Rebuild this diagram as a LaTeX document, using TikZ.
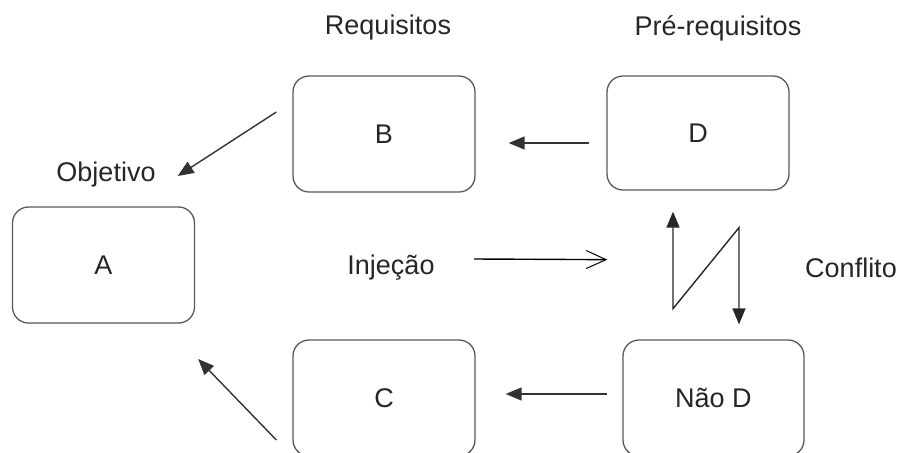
\documentclass[tikz,border=0pt]{standalone}
\usepackage{fontspec}
\setmainfont{Liberation Sans}
\usetikzlibrary{arrows.meta,calc}
\begin{document}
\begin{tikzpicture}[x=1pt,y=-1pt,
  every node/.style={font=\fontsize{27}{32}\selectfont, text=black!85},
  box/.style={draw=black!65, line width=1.3pt, rounded corners=16pt,
    minimum width=182pt, minimum height=116pt, inner sep=0pt},
  lbl/.style={inner sep=0pt},
  link/.style={draw=black!80, line width=1.4pt, -{Triangle[length=16pt,width=13pt]}},
  inject/.style={draw=black, line width=1.4pt, -{Straight Barb[length=20pt,width=18pt,line width=1pt]}}]
  \useasboundingbox (0,0) rectangle (898,453);

  % boxes
  \node[box] (A) at (103.5,265) {A};
  \node[box] (B) at (384,134) {B};
  \node[box, minimum height=114pt] (D) at (698,133) {D};
  \node[box] (C) at (384,398) {C};
  \node[box, minimum width=181pt] (ND) at (713.5,398) {Não D};

  % labels
  \node[lbl] (req) at (388,28) {Requisitos};
  \node[lbl] (preq) at (718,28) {Pré-requisitos};
  \node[lbl] (obj) at (106,175) {Objetivo};
  \node[lbl] (inj) at (391,268) {Injeção};
  \node[lbl] (conf) at (851,268) {Conflito};

  % connectors
  \draw[link] ($(B.west)+(-16,-22)$) -- ($(obj.east)+(22,1)$);
  \draw[link] ($(C.west)+(-16,42)$) -- ($(A.east)+(3,94)$);
  \draw[link] ($(D.west)+(-17,10)$) -- ($(B.east)+(33,9)$);
  \draw[link] ($(ND.west)+(-15,-4)$) -- ($(C.east)+(30,-4)$);
  \draw[inject] ($(inj.center)+(83,-9)$) -- ($(D.south west)+(1,69)$);

  % conflict zigzag between D and Não D
  \coordinate (z1) at ($(D.south)+(-25,21)$);
  \coordinate (z2) at ($(D.south)+(-25,118)$);
  \coordinate (z3) at ($(D.south)+(41,37)$);
  \coordinate (z4) at ($(ND.north)+(25.5,-15)$);
  \draw[line width=1.4pt, draw=black!85,
    {Triangle[length=16pt,width=13pt]}-{Triangle[length=16pt,width=13pt]}]
    (z1) -- (z2) -- (z3) -- (z4);
\end{tikzpicture}
\end{document}
